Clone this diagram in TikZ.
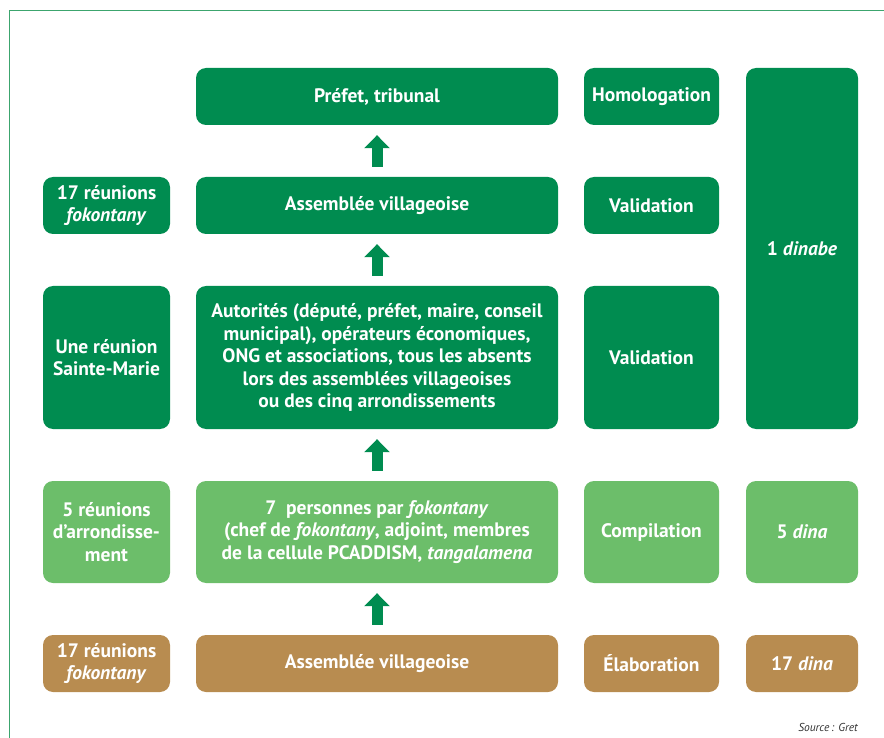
\documentclass[tikz,border=0pt]{standalone}
\usepackage{fontspec}
\setmainfont{PT Sans}
\usetikzlibrary{arrows.meta}

\definecolor{vertfonce}{RGB}{0,140,80}
\definecolor{vertclair}{RGB}{108,190,106}
\definecolor{ocre}{RGB}{184,140,80}
\definecolor{cadre}{RGB}{60,165,110}

\begin{document}
\begin{tikzpicture}[x = 1pt, y = -1pt,
  boite/.style = {rounded corners = 10pt, text = white, align = center, inner sep = 0pt,
    font = \fontsize{19.5}{22.5}\selectfont\bfseries},
  fonce/.style = {boite, fill = vertfonce},
  clair/.style = {boite, fill = vertclair},
  brun/.style = {boite, fill = ocre},
  fleche/.style = {draw = vertfonce, line width = 11pt, shorten <= 10pt, shorten >= 10pt,
    -{Triangle[width = 25pt, length = 13pt]}}]
\useasboundingbox (0, 0) rectangle (884, 738);
% cadre
\draw[cadre, line width = 1pt] (884, 11) -- (9, 11) -- (9, 738);
% colonne 1
\node[fonce, minimum width = 127pt, minimum height = 57pt] (g2) at (106.5, 205.5) {17 réunions\\\textit{fokontany}};
\node[fonce, minimum width = 127pt, minimum height = 143pt] (g3) at (106.5, 357.5) {Une réunion\\Sainte-Marie};
\node[clair, minimum width = 127pt, minimum height = 102pt] (g4) at (106.5, 532) {5 réunions\\d’arrondisse-\\ment};
\node[brun, minimum width = 127pt, minimum height = 57pt] (g5) at (106.5, 663.5) {17 réunions\\\textit{fokontany}};
% colonne 2
\node[fonce, minimum width = 362pt, minimum height = 57pt] (m1) at (377, 96.5) {Préfet, tribunal};
\node[fonce, minimum width = 362pt, minimum height = 57pt] (m2) at (377, 205.5) {Assemblée villageoise};
\node[fonce, minimum width = 362pt, minimum height = 143pt] (m3) at (377, 357.5) {Autorités (député, préfet, maire, conseil\\municipal), opérateurs économiques,\\ONG et associations, tous les absents\\lors des assemblées villageoises\\ou des cinq arrondissements};
\node[clair, minimum width = 362pt, minimum height = 102pt] (m4) at (377, 532) {7\ \ personnes par \textit{fokontany}\\(chef de \textit{fokontany}, adjoint, membres\\de la cellule PCADDISM, \textit{tangalamena}};
\node[brun, minimum width = 362pt, minimum height = 57pt] (m5) at (377, 663.5) {Assemblée villageoise};
% colonne 3
\node[fonce, minimum width = 135pt, minimum height = 57pt] (d1) at (651.5, 96.5) {Homologation};
\node[fonce, minimum width = 135pt, minimum height = 57pt] (d2) at (651.5, 205.5) {Validation};
\node[fonce, minimum width = 135pt, minimum height = 143pt] (d3) at (651.5, 357.5) {Validation};
\node[clair, minimum width = 135pt, minimum height = 102pt] (d4) at (651.5, 532) {Compilation};
\node[brun, minimum width = 135pt, minimum height = 57pt] (d5) at (651.5, 663.5) {Élaboration};
% colonne 4
\node[fonce, minimum width = 112pt, minimum height = 361pt] (e1) at (802, 248.5) {1 \textit{dinabe}};
\node[clair, minimum width = 112pt, minimum height = 102pt] (e4) at (802, 532) {5 \textit{dina}};
\node[brun, minimum width = 112pt, minimum height = 57pt] (e5) at (802, 663.5) {17 \textit{dina}};
% fleches
\foreach \a/\b in {m5/m4, m4/m3, m3/m2, m2/m1}{\draw[fleche] (\a.north) -- (\b.south);}
\node[anchor = east, inner sep = 0pt, font = \fontsize{11.5}{14}\selectfont\itshape, text = black!80] (src) at (858, 727) {Source\,: Gret};
\end{tikzpicture}
\end{document}
